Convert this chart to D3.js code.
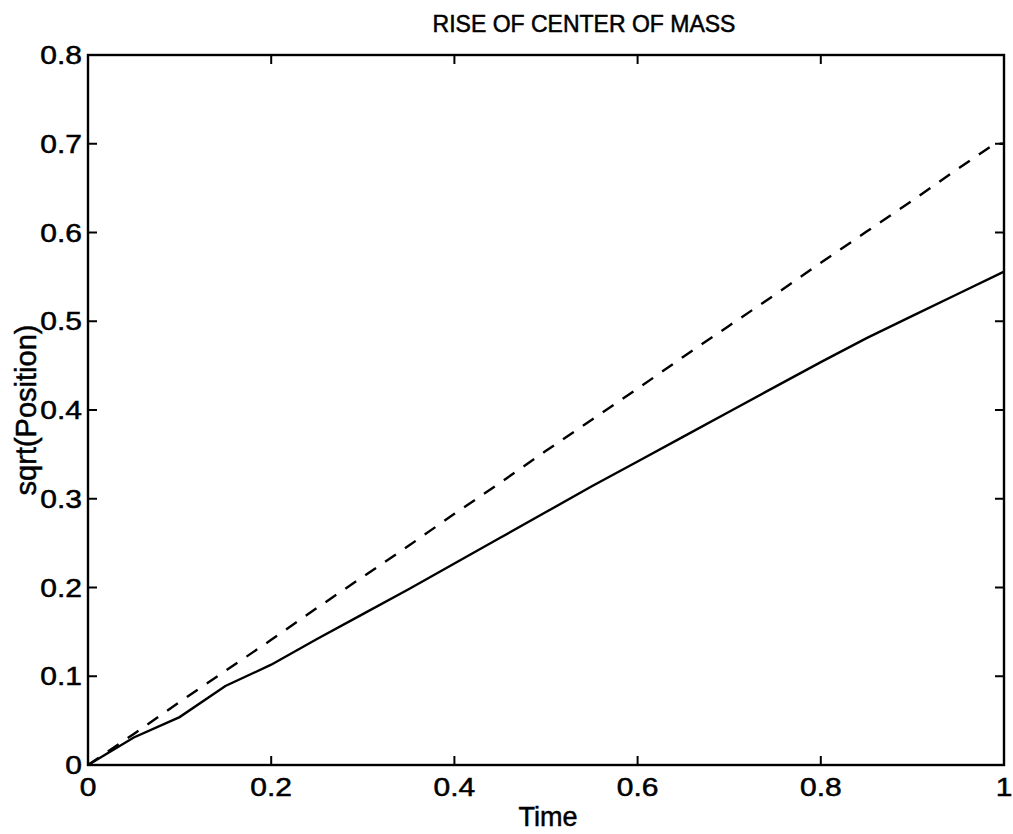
<!DOCTYPE html>
<html>
<head>
<meta charset="utf-8">
<script src="https://cdn.jsdelivr.net/npm/d3@7"></script>
<style>
  html, body { margin: 0; padding: 0; background: #fff; }
  svg { display: block; }
  text { font-family: "Liberation Sans", Arial, Helvetica, sans-serif; fill: #000; stroke: #000; stroke-width: 0.5px; }
</style>
</head>
<body>
<svg id="chart" width="1013" height="834"></svg>
<script>
// ---- data ----
const timeSolid = [0, 0.05, 0.1, 0.15, 0.2, 0.25, 0.3, 0.35, 0.4, 0.45, 0.5, 0.55, 0.6, 0.65, 0.7, 0.75, 0.8, 0.85, 0.9, 0.95, 1.0];
const solidValues = [0, 0.031, 0.054, 0.089, 0.113, 0.142, 0.170, 0.198, 0.227, 0.256, 0.285, 0.314, 0.342, 0.370, 0.398, 0.426, 0.454, 0.481, 0.506, 0.531, 0.556];
const timeDashed = [0, 0.05, 0.1, 0.15, 0.2, 0.25, 0.3, 0.35, 0.4, 0.45, 0.5, 0.55, 0.6, 0.65, 0.7, 0.75, 0.8, 0.85, 0.9, 0.95, 0.99, 1.0];
const dashedValues = [0, 0.035, 0.071, 0.106, 0.141, 0.177, 0.212, 0.247, 0.283, 0.318, 0.354, 0.389, 0.424, 0.460, 0.495, 0.530, 0.566, 0.601, 0.636, 0.672, 0.700, 0.700];
const xTicks = [0, 0.2, 0.4, 0.6, 0.8, 1];
const xTickLabels = ["0", "0.2", "0.4", "0.6", "0.8", "1"];
const yTicks = [0, 0.1, 0.2, 0.3, 0.4, 0.5, 0.6, 0.7, 0.8];
const yTickLabels = ["0", "0.1", "0.2", "0.3", "0.4", "0.5", "0.6", "0.7", "0.8"];
const titleText = "RISE OF CENTER OF MASS";
const xLabelText = "Time";
const yLabelText = "sqrt(Position)";

// ---- layout ----
const pLeft = 88, pRight = 1004, pTop = 55, pBottom = 765;
const svg = d3.select("#chart");
const x = d3.scaleLinear().domain([0, 1]).range([pLeft, pRight]);
const y = d3.scaleLinear().domain([0, 0.8]).range([pBottom, pTop]);
const tickLen = 9;

// lines
const line = d3.line().x(d => x(d[0])).y(d => y(d[1]));
svg.append("path")
  .datum(timeDashed.map((t, i) => [t, dashedValues[i]]))
  .attr("d", line).attr("fill", "none").attr("stroke", "#000")
  .attr("stroke-width", 2.4).attr("stroke-dasharray", "13,11");
svg.append("path")
  .datum(timeSolid.map((t, i) => [t, solidValues[i]]))
  .attr("d", line).attr("fill", "none").attr("stroke", "#000")
  .attr("stroke-width", 2.4);

// ticks (inward, all four sides)
const tg = svg.append("g").attr("stroke", "#000").attr("stroke-width", 2);
xTicks.forEach(t => {
  tg.append("line").attr("x1", x(t)).attr("x2", x(t)).attr("y1", pBottom).attr("y2", pBottom - tickLen);
  tg.append("line").attr("x1", x(t)).attr("x2", x(t)).attr("y1", pTop).attr("y2", pTop + tickLen);
});
yTicks.forEach(t => {
  tg.append("line").attr("x1", pLeft).attr("x2", pLeft + tickLen).attr("y1", y(t)).attr("y2", y(t));
  tg.append("line").attr("x1", pRight).attr("x2", pRight - tickLen).attr("y1", y(t)).attr("y2", y(t));
});

// frame
svg.append("rect").attr("x", pLeft).attr("y", pTop)
  .attr("width", pRight - pLeft).attr("height", pBottom - pTop)
  .attr("fill", "none").attr("stroke", "#000").attr("stroke-width", 2.4);

// tick labels
const tickFont = 25, stretch = 1.2;
xTicks.forEach((t, i) => {
  svg.append("text")
    .attr("transform", `translate(${x(t)},${pBottom + 31}) scale(${stretch},1)`)
    .attr("text-anchor", "middle").attr("font-size", tickFont)
    .text(xTickLabels[i]);
});
yTicks.forEach((t, i) => {
  svg.append("text")
    .attr("transform", `translate(${pLeft - 6},${y(t) + 9}) scale(${stretch},1)`)
    .attr("text-anchor", "end").attr("font-size", tickFont)
    .text(yTickLabels[i]);
});

// title and axis labels
svg.append("text").attr("x", 584).attr("y", 32).attr("text-anchor", "middle")
  .attr("font-size", 23).text(titleText);
svg.append("text").attr("x", (pLeft + pRight) / 2 + 2).attr("y", 826).attr("text-anchor", "middle")
  .attr("font-size", 27).text(xLabelText);
svg.append("text")
  .attr("transform", `translate(36,${(pTop + pBottom) / 2}) rotate(-90)`)
  .attr("text-anchor", "middle").attr("font-size", 29).text(yLabelText);
</script>
</body>
</html>
